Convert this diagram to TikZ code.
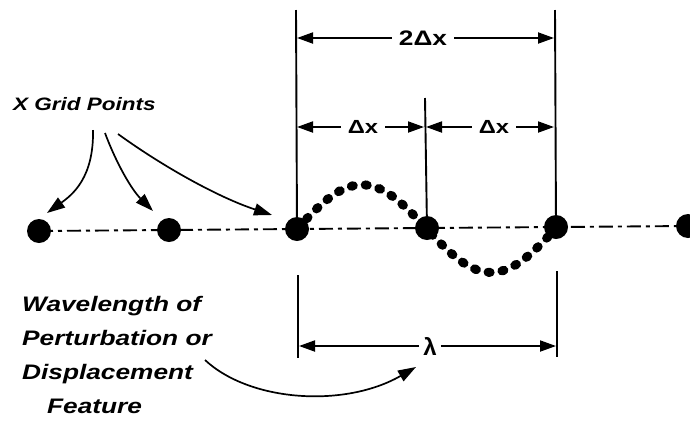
\documentclass[tikz,border=0pt]{standalone}
\usepackage{fontspec}
\setmainfont{Liberation Sans}
\newfontfamily\widefont[FakeStretch=1.25]{Liberation Sans}
\usetikzlibrary{arrows.meta}
\begin{document}
\begin{tikzpicture}[x=1pt,y=-1pt,
  gp/.style={circle,fill=black,minimum size=24pt,inner sep=0pt},
  vline/.style={line width=1.9pt},
  dimarr/.style={line width=1.9pt,-{Triangle[length=16pt,width=11pt]}},
  dimlbl/.style={inner xsep=7pt,inner ysep=0pt,font=\widefont\bfseries\fontsize{19}{19}\selectfont},
  curvarr/.style={line width=1.7pt,-{Triangle[length=18pt,width=12pt]}},
  axisline/.style={line width=1.9pt,dash pattern=on 14pt off 5pt on 4pt off 5pt},
  wave/.style={line width=9pt,line cap=round,dash pattern=on 2pt off 12pt},
  note/.style={inner sep=0pt,font=\widefont\bfseries\itshape\fontsize{21}{34}\selectfont,align=left}
]
\useasboundingbox (0,0) rectangle (690,421);
\fill[white] (0,0) rectangle (690,421);

% grid points
\coordinate (p1) at (39,231);
\coordinate (p2) at (169,230);
\coordinate (p3) at (297,229);
\coordinate (p4) at (427,228);
\coordinate (p5) at (556,227);
\coordinate (p6) at (688,226);
\draw[axisline] (p1) -- (p6);

% dotted perturbation wave
\draw[wave] plot[domain=0:1,samples=80,smooth] ({297+259*\x},{229-0.8*\x-44*sin(360*\x)});

\foreach \p in {p1,p2,p3,p4,p5,p6} \node[gp] (g\p) at (\p) {};

% vertical extension lines
\coordinate (v1) at (296,10);
\coordinate (v2) at (425,98);
\coordinate (v3) at (555,10);
\draw[vline] (v1) -- (p3);
\draw[vline] (v2) -- (p4);
\draw[vline] (v3) -- (p5);
\coordinate (w1a) at (298,275);
\coordinate (w1b) at (298,358);
\coordinate (w2a) at (557,271);
\coordinate (w2b) at (557,357);
\draw[vline] (w1a) -- (w1b);
\draw[vline] (w2a) -- (w2b);

% 2 delta x
\node[dimlbl,font=\widefont\bfseries\fontsize{21}{21}\selectfont] (d2) at (423,38) {2Δx};
\coordinate (d2l) at (297,38);
\coordinate (d2r) at (554,38);
\draw[dimarr] (d2.west) -- (d2l);
\draw[dimarr] (d2.east) -- (d2r);

% delta x (left)
\node[dimlbl] (da) at (363,127) {Δx};
\coordinate (dal) at (297,127);
\coordinate (dar) at (424,127);
\draw[dimarr] (da.west) -- (dal);
\draw[dimarr] (da.east) -- (dar);

% delta x (right)
\node[dimlbl] (db) at (494,127) {Δx};
\coordinate (dbl) at (426,127);
\coordinate (dbr) at (554,127);
\draw[dimarr] (db.west) -- (dbl);
\draw[dimarr] (db.east) -- (dbr);

% lambda
\node[inner xsep=4pt,inner ysep=0pt,font=\bfseries\fontsize{24}{24}\selectfont] (lam) at (430,346) {λ};
\coordinate (ll) at (299,346);
\coordinate (lr) at (556,346);
\draw[dimarr] (lam.west) -- (ll);
\draw[dimarr] (lam.east) -- (lr);

% X grid points label
\node[note,font=\widefont\bfseries\itshape\fontsize{18}{18}\selectfont,anchor=base west] (xg) at (13,110) {X Grid Points};
\coordinate (s1) at (93,130);
\coordinate (s2) at (105,133);
\coordinate (s3) at (118,134);
\coordinate (e1) at (47,213);
\coordinate (e2) at (153,211);
\coordinate (e3) at (272,215);
\draw[curvarr] (s1) .. controls (94,178) and (72,195) .. (e1);
\draw[curvarr] (s2) .. controls (117,165) and (132,190) .. (e2);
\draw[curvarr] (s3) .. controls (165,168) and (220,198) .. (e3);

% wavelength label
\node[note,anchor=north west] (wl) at (22,296) {Wavelength of\\Perturbation or\\Displacement\\\hspace*{25pt}Feature};
\coordinate (s4) at (205,360);
\coordinate (e4) at (416,367);
\draw[curvarr] (s4) .. controls (250,402) and (345,408) .. (e4);
\end{tikzpicture}
\end{document}
